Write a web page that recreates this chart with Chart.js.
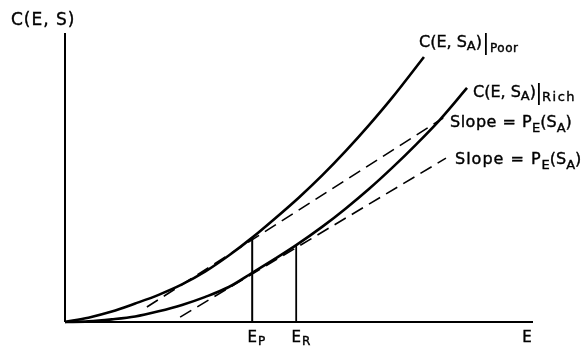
<!DOCTYPE html>
<html><head><meta charset="utf-8">
<script src="https://cdn.jsdelivr.net/npm/chart.js@4"></script>
<style>html,body{margin:0;padding:0;background:#fff}#wrap{width:588px;height:348px}</style>
</head><body><div id="wrap"><canvas id="c" width="588" height="348"></canvas></div>
<script>
// Data (E on x, C on y; axes 0..100 arbitrary units)
const poorE = [0, 5, 10, 15, 20, 25, 30, 35, 40, 45, 50, 55, 60, 65, 70, 76.7];
const poorC = [0, 1.5, 3.6, 6.4, 9.4, 13.0, 17.5, 23.0, 29.2, 36.0, 43.1, 50.8, 59.2, 68.2, 77.8, 91.7];
const richE = [0, 5, 10, 15, 20, 25, 30, 35, 40, 45, 49.4, 55, 60, 65, 70, 75, 80, 85.9];
const richC = [0, 0.2, 0.9, 1.9, 3.7, 5.9, 8.7, 12.1, 17.0, 22.0, 26.6, 33.0, 39.3, 46.1, 53.5, 61.4, 69.8, 81.0];
const slopeAE = [17.5, 80.8];
const slopeAC = [5.2, 70.6];
const slopeBE = [24.6, 81.4];
const slopeBC = [1.7, 56.7];
const markE = [40, 49.4];      // E_P, E_R
const markC = [29.2, 26.6];    // heights where the verticals meet the curves
const tickE = [40, 49.4, 98.7];
const tickMain = ['E', 'E', 'E'];
const tickSub = ['P', 'R', ''];
const axisMax = 100;

const pts = (xs, ys) => xs.map((x, i) => ({x, y: ys[i]}));
const FF = '"DejaVu Sans", sans-serif';

function drawParts(ctx, x, y, parts) {
  for (const p of parts) {
    ctx.font = p.font;
    ctx.letterSpacing = p.ls || '0px';
    ctx.fillText(p.t, x, y + (p.dy || 0));
    ctx.strokeText(p.t, x, y + (p.dy || 0));
    x += ctx.measureText(p.t).width + (p.gap || 0);
  }
  ctx.letterSpacing = '0px';
  return x;
}

const textPlugin = {
  id: 'texts',
  afterDatasetsDraw(chart) {
    const ctx = chart.ctx;
    const xs = chart.scales.x;
    ctx.save();
    ctx.fillStyle = '#000';
    ctx.strokeStyle = '#000';
    ctx.lineWidth = 0.4;
    ctx.textBaseline = 'alphabetic';
    ctx.textAlign = 'left';
    // y axis title
    drawParts(ctx, 11, 25, [{t: 'C(E, S)', font: '17px ' + FF, ls: '1px'}]);
    // x tick labels
    tickE.forEach((v, i) => {
      const px = xs.getPixelForValue(v);
      ctx.font = '15px ' + FF;
      const w = ctx.measureText(tickMain[i]).width;
      drawParts(ctx, px - w / 2, 342, [
        {t: tickMain[i], font: '15px ' + FF, gap: 1},
        {t: tickSub[i], font: '12px ' + FF, dy: 3}
      ]);
    });
    // curve labels
    const big = '16px ' + FF, sub = '13px ' + FF;
    let x = drawParts(ctx, 419, 47, [
      {t: 'C(E, S', font: big}, {t: 'A', font: sub, dy: 3}, {t: ')', font: big, gap: 3}
    ]);
    ctx.fillRect(x, 33, 1.8, 22);
    drawParts(ctx, x + 5, 52, [{t: 'Poor', font: '12px ' + FF, ls: '0.5px'}]);
    x = drawParts(ctx, 473, 97, [
      {t: 'C(E, S', font: big}, {t: 'A', font: sub, dy: 3}, {t: ')', font: big, gap: 2}
    ]);
    ctx.fillRect(x, 83, 1.8, 22);
    drawParts(ctx, x + 4, 101, [{t: 'Rich', font: '13px ' + FF, ls: '1.5px'}]);
    // slope labels
    drawParts(ctx, 450, 127, [
      {t: 'Slope = P', font: big, ls: '0.5px'}, {t: 'E', font: sub, dy: 5},
      {t: '(S', font: big}, {t: 'A', font: sub, dy: 5}, {t: ')', font: big}
    ]);
    drawParts(ctx, 455, 164, [
      {t: 'Slope = P', font: big, ls: '1px'}, {t: 'E', font: sub, dy: 5},
      {t: '(S', font: big}, {t: 'A', font: sub, dy: 5}, {t: ')', font: big}
    ]);
    ctx.restore();
  }
};

const solid = (data, w) => ({data, borderColor: '#000', borderWidth: w, showLine: true, pointRadius: 0, fill: false, clip: false});
const datasets = [
  solid(pts([0, 0], [0, axisMax]), 2),
  solid(pts([0, axisMax], [0, 0]), 2),
  Object.assign(solid(pts(poorE, poorC), 2.6), {cubicInterpolationMode: 'monotone'}),
  Object.assign(solid(pts(richE, richC), 2.6), {cubicInterpolationMode: 'monotone'}),
  Object.assign(solid(pts(slopeAE, slopeAC), 1.6), {borderDash: [13, 7]}),
  Object.assign(solid(pts(slopeBE, slopeBC), 1.6), {borderDash: [13, 7]}),
  solid(pts([markE[0], markE[0]], [0, markC[0]]), 2),
  solid(pts([markE[1], markE[1]], [0, markC[1]]), 1.8)
];

new Chart(document.getElementById('c'), {
  type: 'scatter',
  data: {datasets},
  options: {
    responsive: false,
    animation: false,
    devicePixelRatio: 1,
    layout: {padding: {left: 65, right: 55, top: 33, bottom: 26}},
    plugins: {legend: {display: false}, tooltip: {enabled: false}, title: {display: false}},
    scales: {
      x: {type: 'linear', min: 0, max: axisMax, display: false},
      y: {type: 'linear', min: 0, max: axisMax, display: false}
    }
  },
  plugins: [textPlugin]
});
</script></body></html>
